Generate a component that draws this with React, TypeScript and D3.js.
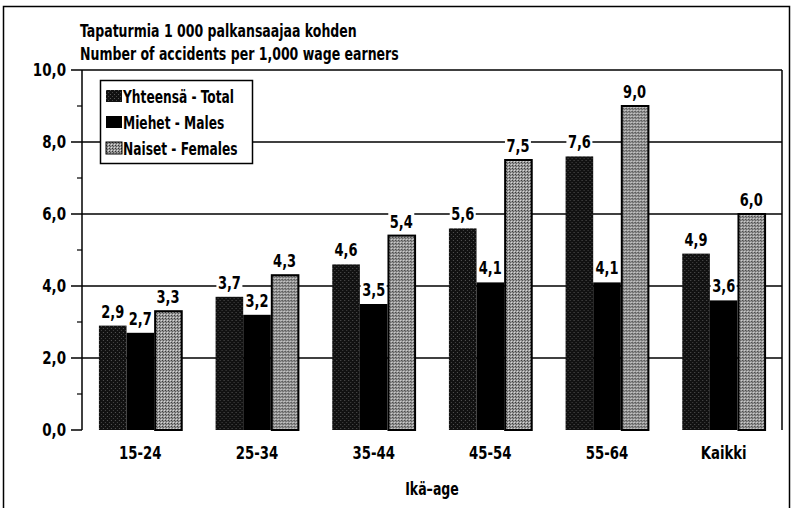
import React from "react";
import * as d3 from "d3";

const categories = ["15-24", "25-34", "35-44", "45-54", "55-64", "Kaikki"];
const seriesNames = ["Yhteensä - Total", "Miehet - Males", "Naiset - Females"];
const totalValues = [2.9, 3.7, 4.6, 5.6, 7.6, 4.9];
const maleValues = [2.7, 3.2, 3.5, 4.1, 4.1, 3.6];
const femaleValues = [3.3, 4.3, 5.4, 7.5, 9.0, 6.0];
const yTicks = [0, 2, 4, 6, 8, 10];
const titleLines = ["Tapaturmia 1 000 palkansaajaa kohden", "Number of accidents per 1,000 wage earners"];
const xTitle = "Ikä–age";

const W = 792;
const H = 508;
const FONT = "'DejaVu Sans Condensed', sans-serif";

function T({ x, y, size, anchor = "start", sx = 0.82, children }: { x: number; y: number; size: number; anchor?: string; sx?: number; children: React.ReactNode }) {
  return (
    <text transform={`translate(${x},${y}) scale(${sx},1)`} fontSize={size} textAnchor={anchor as any}>{children}</text>
  );
}

export default function App() {
  const left = 82, right = 782, top = 70, bottom = 430;
  const y = d3.scaleLinear().domain([0, 10]).range([bottom, top]);
  const x0 = d3.scaleBand<string>().domain(categories).range([left, right]).paddingInner(0.29).paddingOuter(0.145);
  const x1 = d3.scaleBand<number>().domain([0, 1, 2]).range([0, x0.bandwidth()]);
  const series = [totalValues, maleValues, femaleValues];
  const fills = ["url(#patTotal)", "#000", "url(#patFemale)"];
  const fmt = (v: number) => v.toFixed(1).replace(".", ",");
  const minor = d3.range(1, 10, 2);

  return (
    <svg width={W} height={H} style={{ display: "block", position: "absolute", left: 0, top: 0, background: "#fff" }} fontFamily={FONT} fontWeight="bold">
      <defs>
        <pattern id="patTotal" width="4" height="4" patternUnits="userSpaceOnUse">
          <rect width="4" height="4" fill="#111" />
          <rect x="0" y="0" width="1" height="1" fill="#555" />
          <rect x="2" y="2" width="1" height="1" fill="#444" />
        </pattern>
        <pattern id="patFemale" width="3" height="3" patternUnits="userSpaceOnUse">
          <rect width="3" height="3" fill="#9a9a9a" />
          <rect x="0" y="0" width="1" height="1" fill="#333" />
          <rect x="1" y="1" width="1" height="1" fill="#555" />
          <rect x="2" y="2" width="1" height="1" fill="#ddd" />
        </pattern>
      </defs>
      <rect x={0} y={0} width={W} height={H} fill="#fff" />
      {/* outer frame */}
      <path d={`M3.5,${H + 5} V6.5 H789.5 V${H + 5}`} fill="none" stroke="#000" strokeWidth={1.5} />

      {titleLines.map((t, i) => (
        <T key={i} x={80} y={37 + i * 23} size={17}>{t}</T>
      ))}

      {/* gridlines */}
      {yTicks.filter(t => t > 0).map(t => (
        <line key={t} x1={left} x2={right} y1={y(t)} y2={y(t)} stroke="#000" strokeWidth={1.5} />
      ))}
      {/* plot frame */}
      <line x1={right} x2={right} y1={top} y2={bottom} stroke="#000" strokeWidth={1.5} />

      {/* bars */}
      {categories.map((c, ci) => (
        <g key={c} transform={`translate(${x0(c)},0)`}>
          {series.map((vals, si) => (
            <rect key={si} x={x1(si)! + (si === 2 ? 1 : 0)} y={y(vals[ci])} width={x1.bandwidth() - (si === 2 ? 1 : 0)} height={bottom - y(vals[ci])}
              fill={fills[si]} stroke={si === 2 ? "#000" : "none"} strokeWidth={2} />
          ))}
        </g>
      ))}

      {/* value labels */}
      {categories.map((c, ci) => (
        <g key={c} transform={`translate(${x0(c)},0)`}>
          {series.map((vals, si) => {
            const cx = x1(si)! + x1.bandwidth() / 2;
            const ty = y(vals[ci]) - 8;
            return (
              <g key={si}>
                <rect x={cx - 13} y={ty - 15} width={26} height={19} fill="#fff" />
                <T x={cx} y={ty} size={17} anchor="middle" sx={0.85}>{fmt(vals[ci])}</T>
              </g>
            );
          })}
        </g>
      ))}

      {/* y axis */}
      <line x1={left} x2={left} y1={top} y2={bottom} stroke="#000" strokeWidth={1.5} />
      {yTicks.map(t => (
        <g key={t}>
          <line x1={left - 11} x2={left} y1={y(t)} y2={y(t)} stroke="#000" strokeWidth={1.5} />
          <T x={66} y={y(t) + 6} size={17} anchor="end" sx={0.88}>{fmt(t)}</T>
        </g>
      ))}
      {minor.map(t => (
        <line key={t} x1={left - 5} x2={left} y1={y(t)} y2={y(t)} stroke="#000" strokeWidth={1.2} />
      ))}

      {/* x labels */}
      {categories.map(c => (
        <T key={c} x={x0(c)! + x0.bandwidth() / 2} y={459} size={18} anchor="middle" sx={0.82}>{c}</T>
      ))}
      <T x={432} y={495} size={17} anchor="middle">{xTitle}</T>

      {/* legend */}
      <rect x={100.5} y={80.5} width={152} height={83} fill="#fff" stroke="#000" strokeWidth={1.5} />
      {seriesNames.map((n, i) => (
        <g key={n} transform={`translate(106,${90 + i * 26})`}>
          <rect x={0} y={0} width={16} height={12} fill={fills[i]} stroke={i === 2 ? "#000" : "none"} strokeWidth={1} />
          <T x={17} y={13} size={17} sx={0.8}>{n}</T>
        </g>
      ))}
    </svg>
  );
}
